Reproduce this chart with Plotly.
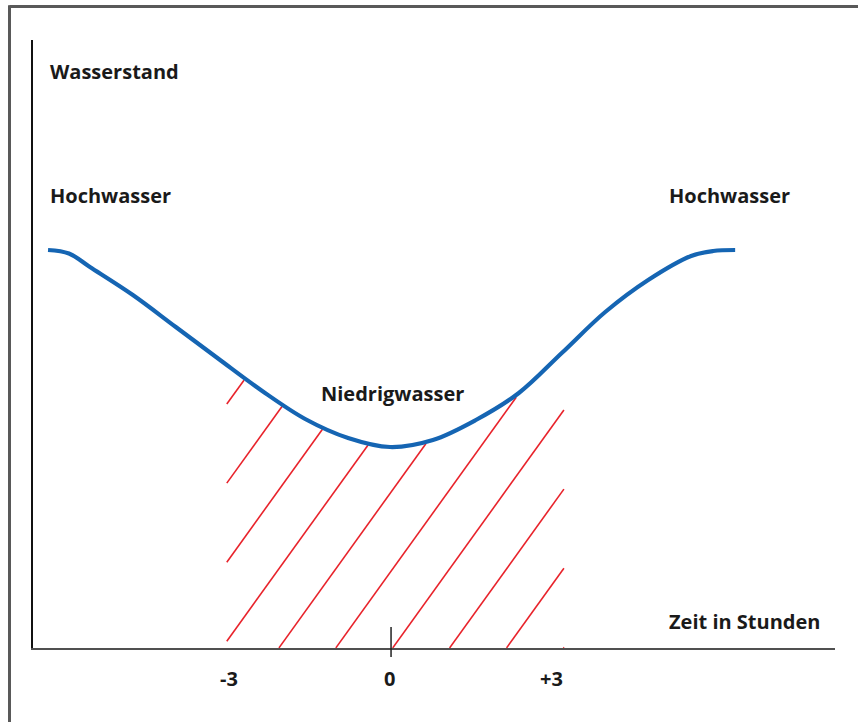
import numpy as np
import plotly.graph_objects as go

# Water level curve (hours relative to low water, level units)
HOURS = [-6.37, -5.98, -5.59, -4.79, -3.99, -3.19, -2.38, -1.58, -0.78, 0.00,
         0.80, 1.60, 2.40, 3.20, 4.01, 4.81, 5.61, 6.02, 6.43]
LEVEL = [3.98, 3.945, 3.81, 3.53, 3.21, 2.89, 2.57, 2.29, 2.10, 2.01,
         2.08, 2.28, 2.55, 2.95, 3.36, 3.68, 3.92, 3.97, 3.98]

TICK_VALUES = [-3, 0, 3]
TICK_LABELS = ["-3", "0", "+3"]

HATCH_FROM = -3.04
HATCH_TO = 3.24
HATCH_SPACING = 1.06
HATCH_SLOPE = 0.746

X_RANGE = [-6.65, 8.29]
Y_RANGE = [0, 6.08]

BLUE = "#1565b3"
RED = "#e8232b"
TXT = "#1a1a1a"
FONT = "Open Sans"

# hatch lines clipped between x-axis and the curve
hh = np.linspace(HATCH_FROM, HATCH_TO, 3000)
curve = np.interp(hh, HOURS, LEVEL) - 0.025
hx, hy = [], []
for k in range(-8, 4):
    h0 = k * HATCH_SPACING + 0.05
    line = HATCH_SLOPE * (hh - h0)
    ok = (line >= 0) & (line <= curve)
    if ok.sum() < 2:
        continue
    idx = np.where(ok)[0]
    run_end = idx[0]
    while run_end + 1 < len(ok) and ok[run_end + 1]:
        run_end += 1
    hx += [hh[idx[0]], hh[run_end], None]
    hy += [line[idx[0]], line[run_end], None]

fig = go.Figure()
fig.add_trace(go.Scatter(x=hx, y=hy, mode="lines",
                         line=dict(color=RED, width=1.6), hoverinfo="skip"))
fig.add_trace(go.Scatter(x=HOURS, y=LEVEL, mode="lines",
                         line=dict(color=BLUE, width=4.2, shape="spline", smoothing=1.0),
                         hoverinfo="skip"))

ann = []
def label(text, x, y, xanchor="left", yshift=0):
    ann.append(dict(text=text, x=x, y=y, xref="x", yref="y", xanchor=xanchor,
                    yanchor="middle", showarrow=False, yshift=yshift,
                    font=dict(family=FONT, size=20, color=TXT, weight="bold")))

label("Wasserstand", -6.37, 5.77)
label("Hochwasser", -6.37, 4.53)
label("Hochwasser", 5.16, 4.53)
label("Niedrigwasser", 0.04, 2.55, xanchor="center")
label("Zeit in Stunden", 5.16, 0.27)
for v, t in zip(TICK_VALUES, TICK_LABELS):
    label(t, v, 0, xanchor="center", yshift=-30)

shapes = [
    # zero tick
    dict(type="line", xref="x", yref="paper", x0=0.02, x1=0.02, y0=-9 / 608, y1=21 / 608,
         line=dict(color="#222", width=1.5)),
    # outer frame (top and left)
    dict(type="line", xref="paper", yref="paper", x0=-0.0293, x1=1.04, y0=1.0551, y1=1.0551,
         line=dict(color="#595959", width=3)),
    dict(type="line", xref="paper", yref="paper", x0=-0.0293, x1=-0.0293, y0=1.057, y1=-0.13,
         line=dict(color="#595959", width=3)),
]

fig.update_layout(
    width=858, height=722,
    margin=dict(l=33, r=23, t=40, b=74),
    paper_bgcolor="white", plot_bgcolor="white",
    showlegend=False,
    annotations=ann, shapes=shapes,
    xaxis=dict(range=X_RANGE, showgrid=False, zeroline=False, showticklabels=False,
               ticks="", showline=True, linecolor="#505050", linewidth=2, fixedrange=True),
    yaxis=dict(range=Y_RANGE, showgrid=False, zeroline=False, showticklabels=False,
               ticks="", showline=True, linecolor="#111", linewidth=1.5, fixedrange=True),
)
fig.write_html("out.html", config={"displayModeBar": False},
               post_script="document.body.style.margin='0px';")
